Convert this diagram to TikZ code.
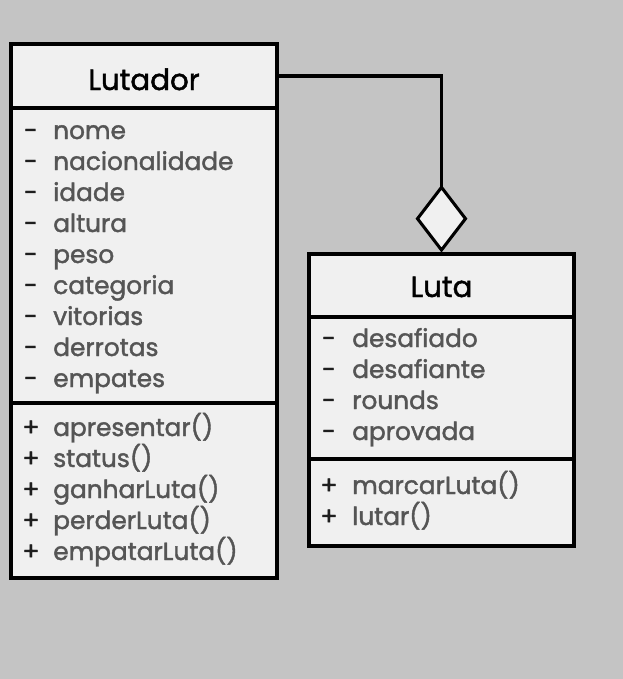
\documentclass[tikz,border=0pt]{standalone}
\usepackage{fontspec}
\setmainfont{Poppins}
\newfontfamily\medfont{Poppins}[FakeBold=1.6]
\usetikzlibrary{shapes.geometric}
\definecolor{bg}{HTML}{C4C4C4}
\definecolor{boxfill}{HTML}{F0F0F0}
\definecolor{attrgray}{HTML}{555555}
\definecolor{symgray}{HTML}{1E1E1E}

\begin{document}
\begin{tikzpicture}[x=0.75pt,y=-0.75pt,
  box/.style={draw=black,fill=boxfill,line width=2.3pt,inner sep=0pt,outer sep=0pt,anchor=north west},
  title/.style={anchor=base,inner sep=0pt,text=black,font=\medfont\fontsize{22}{24}\selectfont},
  attr/.style={anchor=base west,inner sep=0pt,text=attrgray,font=\medfont\fontsize{18.6}{24}\selectfont},
  sym/.style={anchor=base,inner sep=0pt,text=symgray,font=\medfont\fontsize{18.6}{24}\selectfont}]

\fill[bg] (0,0) rectangle (623,679);
\useasboundingbox (0,0) rectangle (623,679);

% Lutador
\node[box,minimum width=199.5pt,minimum height=48pt] (lutHead) at (11,44) {};
\node[box,minimum width=199.5pt,minimum height=221.25pt] (lutAttr) at (lutHead.south west) {};
\node[box,minimum width=199.5pt,minimum height=131.25pt] (lutMeth) at (lutAttr.south west) {};
\node[title] (lutT) at (144,90) {Lutador};
\foreach \t [count=\i from 0] in {nome,nacionalidade,idade,altura,peso,categoria,vitorias,derrotas,empates}{
  \node[sym] (lutS\i) at (31,{139+31*\i}) {-};
  \node[attr] (lutA\i) at (53,{139+31*\i}) {\t};
}
\foreach \t [count=\i from 0] in {apresentar(),status(),ganharLuta(),perderLuta(),empatarLuta()}{
  \node[sym] (lutP\i) at (31,{436+31*\i}) {+};
  \node[attr] (lutM\i) at (53,{436+31*\i}) {\t};
}

% Luta
\node[box,minimum width=198.75pt,minimum height=47.25pt] (lutaHead) at (309,254) {};
\node[box,minimum width=198.75pt,minimum height=106.5pt] (lutaAttr) at (lutaHead.south west) {};
\node[box,minimum width=198.75pt,minimum height=65.25pt] (lutaMeth) at (lutaAttr.south west) {};
\node[title] (lutaT) at (441.5,297) {Luta};
\foreach \t [count=\i from 0] in {desafiado,desafiante,rounds,aprovada}{
  \node[sym] (lutaS\i) at (329,{347+31*\i}) {-};
  \node[attr] (lutaA\i) at (352,{347+31*\i}) {\t};
}
\foreach \t [count=\i from 0] in {marcarLuta(),lutar()}{
  \node[sym] (lutaP\i) at (329,{494+31*\i}) {+};
  \node[attr] (lutaM\i) at (352,{494+31*\i}) {\t};
}

% agregacao
\node[diamond,draw=black,fill=boxfill,line width=2.3pt,inner sep=0pt,outer sep=0pt,
  minimum width=36pt,minimum height=47pt,anchor=south] (agg) at ([yshift=3pt]lutaHead.north) {};
\draw[line width=2.3pt] (lutHead.east) -| (agg.north);

\end{tikzpicture}
\end{document}
